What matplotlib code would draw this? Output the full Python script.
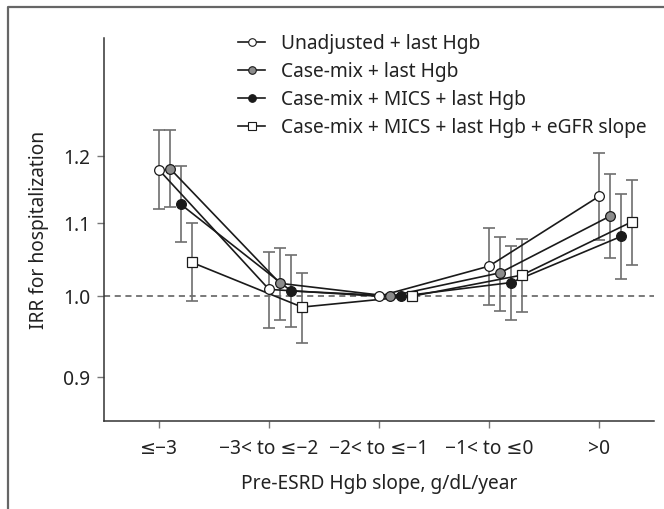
import numpy as np
import matplotlib
matplotlib.use('Agg')
import matplotlib.pyplot as plt
from matplotlib.lines import Line2D

plt.rcParams['font.family'] = ['Noto Sans', 'DejaVu Sans']

cats = ['\u2264\u22123', '\u22123< to \u2264\u22122', '\u22122< to \u2264\u22121', '\u22121< to \u22640', '>0']
nan = np.nan

labels = ['Unadjusted + last Hgb', 'Case-mix + last Hgb',
          'Case-mix + MICS + last Hgb', 'Case-mix + MICS + last Hgb + eGFR slope']

unadj = [1.179, 1.009, 1.0, 1.040, 1.139]
unadj_lo = [1.120, 0.960, nan, 0.989, 1.076]
unadj_hi = [1.242, 1.059, nan, 1.093, 1.205]

casemix = [1.181, 1.017, 1.0, 1.031, 1.110]
casemix_lo = [1.124, 0.970, nan, 0.981, 1.051]
casemix_hi = [1.242, 1.065, nan, 1.080, 1.173]

mics = [1.127, 1.007, 1.0, 1.018, 1.081]
mics_lo = [1.073, 0.961, nan, 0.970, 1.023]
mics_hi = [1.185, 1.055, nan, 1.067, 1.142]

egfr = [1.045, 0.986, 1.0, 1.028, 1.102]
egfr_lo = [0.994, 0.941, nan, 0.980, 1.042]
egfr_hi = [1.100, 1.031, nan, 1.077, 1.163]

series = [(unadj, unadj_lo, unadj_hi), (casemix, casemix_lo, casemix_hi),
          (mics, mics_lo, mics_hi), (egfr, egfr_lo, egfr_hi)]
markers = ['o', 'o', 'o', 's']
fills = ['white', '#8c8c8c', '#1a1a1a', 'white']
msizes = [7.0, 7.0, 7.0, 6.5]
fs = 13.8
W, H = 664, 509

fig = plt.figure(figsize=(W/100, H/100), dpi=100)
ax = fig.add_axes([104/W, 1-421/H, 550/W, 383/H])

x = np.arange(len(cats))
ax.axhline(1.0, color='#555555', lw=1.1, ls=(0, (4, 3)), zorder=1)

for i, (v, lo, hi) in enumerate(series):
    xs = x + 0.1*i
    v = np.array(v); lo = np.array(lo); hi = np.array(hi)
    m = ~np.isnan(lo)
    ax.errorbar(xs[m], v[m], yerr=[v[m]-lo[m], hi[m]-v[m]], fmt='none',
                ecolor='#6e6e6e', elinewidth=1.2, capsize=4, capthick=1.2, zorder=2)
    ax.plot(xs, v, color='#1a1a1a', lw=1.2, zorder=3)
    ax.plot(xs, v, ls='none', marker=markers[i], ms=msizes[i], mfc=fills[i],
            mec='#1a1a1a', mew=0.9, zorder=4)

ax.set_yscale('log')
ax.set_ylim(0.85, 1.40)
ax.set_xlim(-0.5, 4.5)
ax.set_yticks([0.9, 1.0, 1.1, 1.2])
ax.set_yticklabels(['0.9', '1.0', '1.1', '1.2'])
ax.yaxis.set_minor_locator(matplotlib.ticker.NullLocator())
ax.set_xticks(x)
ax.set_xticklabels(cats)
ax.tick_params(axis='both', length=5, width=1, color='#777777', labelsize=fs,
               labelcolor='#222222')
ax.tick_params(axis='x', pad=8)
ax.tick_params(axis='y', pad=5)
for s in ['top', 'right']:
    ax.spines[s].set_visible(False)
for s in ['left', 'bottom']:
    ax.spines[s].set_color('#333333')
    ax.spines[s].set_linewidth(1.1)

ax.set_xlabel('Pre-ESRD Hgb slope, g/dL/year', fontsize=fs, color='#222222', labelpad=11)
ax.set_ylabel('IRR for hospitalization', fontsize=fs, color='#222222', labelpad=10)

# legend rows placed in pixel positions
for i, lab in enumerate(labels):
    yc = 1 - (42 + 28*i)/H
    fig.add_artist(Line2D([238/W, 265/W], [yc, yc], transform=fig.transFigure,
                          color='#1a1a1a', lw=1.2))
    fig.add_artist(Line2D([251.5/W], [yc], transform=fig.transFigure, ls='none',
                          marker=markers[i], ms=msizes[i]*0.78, mfc=fills[i],
                          mec='#1a1a1a', mew=0.8))
    fig.text(281/W, 1 - (49 + 28*i)/H, lab, fontsize=fs, color='#222222',
             ha='left', va='baseline')

# figure border (top and left)
fig.add_artist(Line2D([8/W, 8/W, 1.0], [0.0, 1-7/H, 1-7/H],
                      transform=fig.transFigure, color='#666666', lw=1.6))

fig.savefig('out.png', dpi=100)
